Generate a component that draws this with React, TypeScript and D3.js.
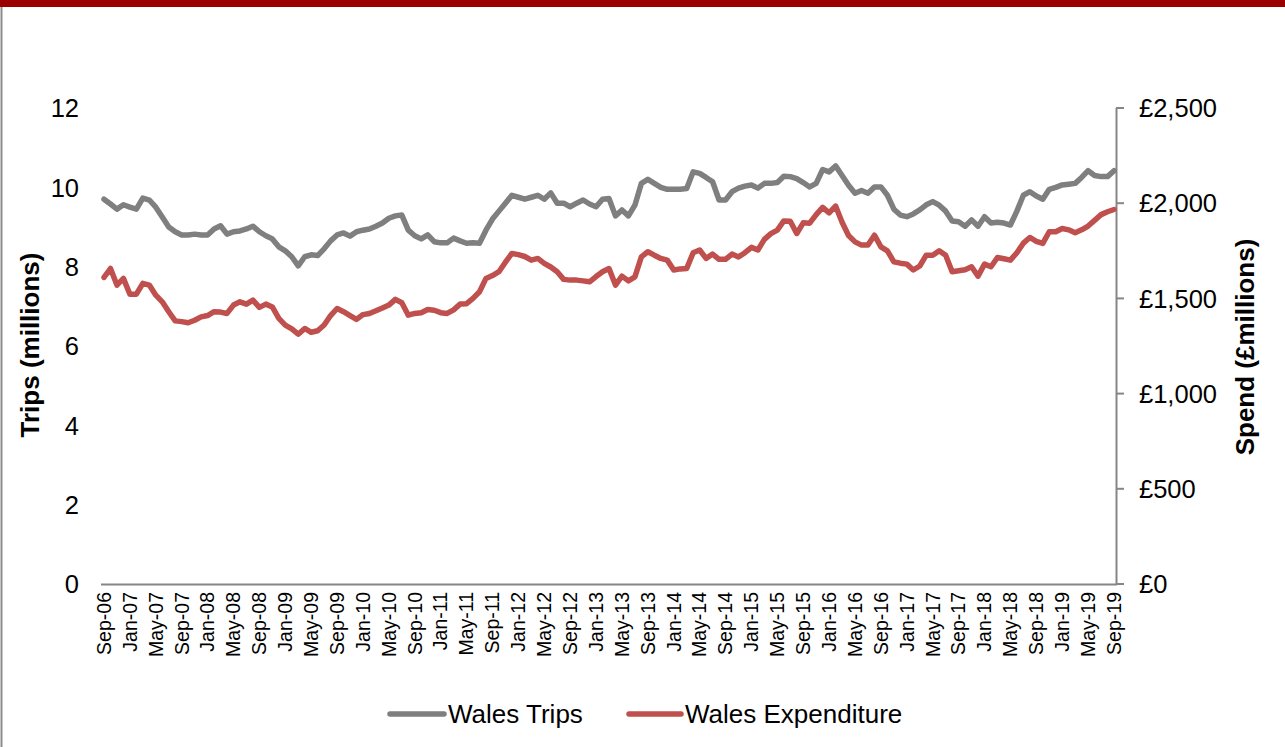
import React from "react";
import * as d3 from "d3";

// Monthly categories Sep-06 .. Sep-19
const fmt = d3.timeFormat("%b-%y");
const months: string[] = d3.range(157).map((i) => fmt(d3.timeMonth.offset(new Date(2006, 8, 1), i)));

const tripTicks = [0, 2, 4, 6, 8, 10, 12];
const spendTicks = [0, 500, 1000, 1500, 2000, 2500];
const xTickLabels = months.filter((_, i) => i % 4 === 0);

// Wales Trips (millions)
const trips = [
  9.70, 9.58, 9.45, 9.56, 9.50, 9.45, 9.73, 9.68, 9.50, 9.25,
  9.00, 8.88, 8.80, 8.80, 8.82, 8.80, 8.80, 8.95, 9.03, 8.82,
  8.88, 8.90, 8.95, 9.02, 8.88, 8.78, 8.70, 8.50, 8.40, 8.25,
  8.02, 8.25, 8.30, 8.28, 8.45, 8.65, 8.80, 8.85, 8.77, 8.88,
  8.92, 8.95, 9.02, 9.10, 9.22, 9.28, 9.30, 8.92, 8.78, 8.70,
  8.80, 8.63, 8.60, 8.60, 8.72, 8.65, 8.59, 8.60, 8.59, 8.92,
  9.20, 9.40, 9.60, 9.80, 9.75, 9.70, 9.75, 9.80, 9.70, 9.86,
  9.60, 9.60, 9.51, 9.60, 9.68, 9.58, 9.51, 9.70, 9.72, 9.28,
  9.43, 9.28, 9.55, 10.10, 10.20, 10.10, 10.00, 9.95, 9.95, 9.95,
  9.97, 10.39, 10.35, 10.25, 10.14, 9.68, 9.68, 9.89, 9.98, 10.03,
  10.06, 9.98, 10.10, 10.10, 10.12, 10.28, 10.27, 10.22, 10.12, 10.01,
  10.10, 10.45, 10.39, 10.54, 10.30, 10.05, 9.85, 9.92, 9.85, 10.01,
  10.01, 9.80, 9.45, 9.30, 9.26, 9.33, 9.43, 9.56, 9.64, 9.55,
  9.40, 9.15, 9.13, 9.02, 9.18, 9.02, 9.26, 9.10, 9.12, 9.10,
  9.05, 9.40, 9.80, 9.89, 9.78, 9.70, 9.95, 10.00, 10.06, 10.08,
  10.10, 10.25, 10.42, 10.30, 10.27, 10.27, 10.42,
];

// Wales Expenditure (£ millions)
const spend = [
  1610, 1657, 1570, 1605, 1522, 1522, 1579, 1570, 1517, 1482,
  1430, 1382, 1378, 1372, 1385, 1403, 1410, 1430, 1428, 1421,
  1465, 1482, 1470, 1491, 1453, 1470, 1455, 1395, 1360, 1340,
  1312, 1342, 1322, 1330, 1360, 1410, 1447, 1430, 1410, 1390,
  1415, 1421, 1435, 1450, 1465, 1495, 1477, 1412, 1421, 1425,
  1442, 1438, 1425, 1421, 1440, 1470, 1472, 1500, 1535, 1605,
  1620, 1640, 1690, 1736, 1730, 1720, 1701, 1710, 1684, 1665,
  1640, 1600, 1596, 1596, 1592, 1587, 1615, 1640, 1657, 1570,
  1617, 1592, 1613, 1718, 1745, 1727, 1710, 1701, 1649, 1655,
  1657, 1740, 1754, 1710, 1733, 1705, 1705, 1733, 1718, 1740,
  1768, 1754, 1810, 1840, 1859, 1907, 1905, 1841, 1897, 1895,
  1940, 1978, 1949, 1985, 1900, 1830, 1797, 1780, 1780, 1832,
  1771, 1750, 1692, 1685, 1680, 1649, 1670, 1727, 1727, 1750,
  1727, 1640, 1645, 1650, 1666, 1617, 1680, 1666, 1715, 1708,
  1701, 1740, 1790, 1820, 1800, 1789, 1850, 1850, 1867, 1860,
  1845, 1860, 1880, 1910, 1940, 1955, 1967,
];

const W = 1285;
const H = 747;
const FONT = "'Liberation Sans', Arial, sans-serif";
const GRAY = "#7f7f7f";
const RED = "#c0504d";
const AXIS = "#868686";

export default function App() {
  const x = d3.scalePoint<string>().domain(months).range([104, 1114]);
  const yL = d3.scaleLinear().domain([0, 12]).range([584, 108]);
  const yR = d3.scaleLinear().domain([0, 2500]).range([584, 108]);

  const tripLine = d3
    .line<number>()
    .x((_, i) => x(months[i]) as number)
    .y((d) => yL(d));
  const spendLine = d3
    .line<number>()
    .x((_, i) => x(months[i]) as number)
    .y((d) => yR(d));

  const pound = (v: number) => "£" + d3.format(",")(v);

  return (
    <svg
      width={W}
      height={H}
      style={{ position: "absolute", left: 0, top: 0, background: "#fff" }}
      fontFamily={FONT}
    >
      <rect x={0} y={0} width={W} height={H} fill="#fff" />
      <rect x={0} y={0} width={W} height={7} fill="#9b0000" />
      <line x1={1.5} y1={7} x2={1.5} y2={H} stroke="#8c8c8c" strokeWidth={2} />

      {/* left axis labels */}
      {tripTicks.map((t) => (
        <text key={"l" + t} x={79} y={yL(t)} dy="0.36em" textAnchor="end" fontSize={25.5} fill="#000">
          {t}
        </text>
      ))}
      <text
        transform={`translate(39,${345}) rotate(-90)`}
        textAnchor="middle"
        fontSize={26}
        fontWeight="bold"
        fill="#000"
      >
        Trips (millions)
      </text>

      {/* right axis */}
      <line x1={1116.5} y1={108} x2={1116.5} y2={585} stroke={AXIS} strokeWidth={2} />
      {spendTicks.map((t) => (
        <g key={"r" + t}>
          <line x1={1116} x2={1124} y1={yR(t)} y2={yR(t)} stroke={AXIS} strokeWidth={2} />
          <text x={1139} y={yR(t)} dy="0.36em" textAnchor="start" fontSize={25.5} fill="#000">
            {pound(t)}
          </text>
        </g>
      ))}
      <text
        transform={`translate(1254,${347}) rotate(-90)`}
        textAnchor="middle"
        fontSize={26}
        fontWeight="bold"
        fill="#000"
      >
        Spend (£millions)
      </text>

      {/* x axis */}
      <line x1={101} y1={584.5} x2={1117} y2={584.5} stroke={AXIS} strokeWidth={2} />
      {xTickLabels.map((m) => (
        <text
          key={m}
          transform={`translate(${x(m)},592) rotate(-90)`}
          dy="0.35em"
          textAnchor="end"
          fontSize={19.5}
          fill="#000"
        >
          {m}
        </text>
      ))}

      {/* series */}
      <path d={tripLine(trips) || ""} fill="none" stroke={GRAY} strokeWidth={5.5} strokeLinejoin="round" strokeLinecap="round" />
      <path d={spendLine(spend) || ""} fill="none" stroke={RED} strokeWidth={5.5} strokeLinejoin="round" strokeLinecap="round" />

      {/* legend */}
      <line x1={390} x2={444} y1={714} y2={714} stroke={GRAY} strokeWidth={5.5} strokeLinecap="round" />
      <text x={448} y={714} dy="0.36em" fontSize={26} fill="#000">Wales Trips</text>
      <line x1={629} x2={681} y1={714} y2={714} stroke={RED} strokeWidth={5.5} strokeLinecap="round" />
      <text x={685} y={714} dy="0.36em" fontSize={26} fill="#000">Wales Expenditure</text>
    </svg>
  );
}
